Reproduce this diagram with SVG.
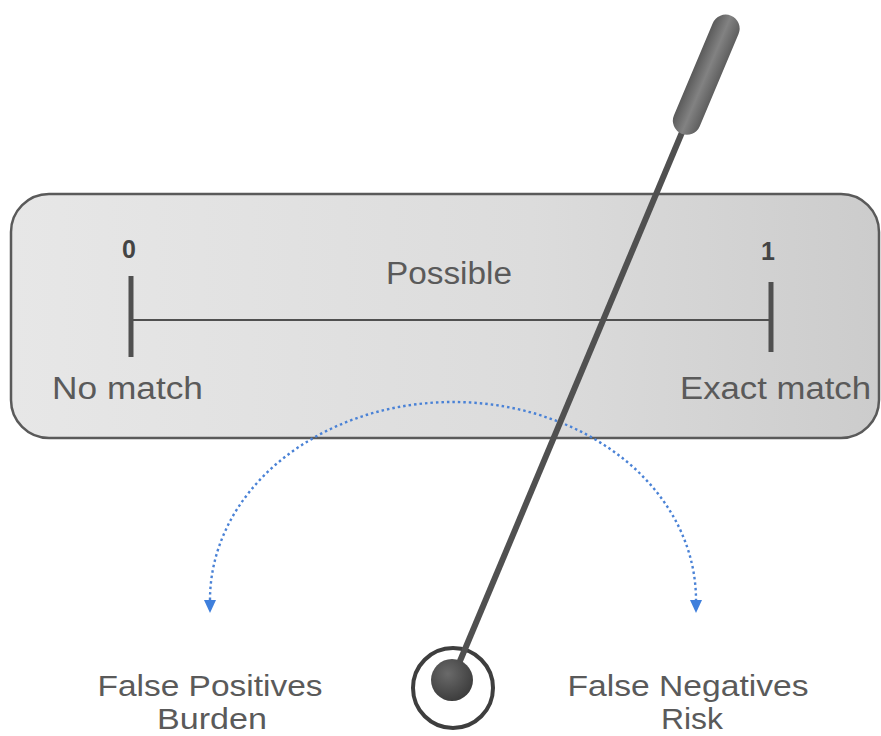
<svg xmlns="http://www.w3.org/2000/svg" width="881" height="736" viewBox="0 0 881 736">
<defs>
<linearGradient id="boxg" x1="0" y1="0" x2="1" y2="0">
<stop offset="0" stop-color="#e7e7e7"/>
<stop offset="0.6" stop-color="#dcdcdc"/>
<stop offset="1" stop-color="#cccccc"/>
</linearGradient>
<linearGradient id="handleg" x1="0" y1="0" x2="1" y2="0">
<stop offset="0" stop-color="#5a5a5a"/>
<stop offset="0.5" stop-color="#828282"/>
<stop offset="1" stop-color="#5e5e5e"/>
</linearGradient>
<radialGradient id="ballg" cx="0.4" cy="0.35" r="0.7">
<stop offset="0" stop-color="#6a6a6a"/>
<stop offset="1" stop-color="#3a3a3a"/>
</radialGradient>
<style>
.lbl{font-family:"Liberation Sans",Arial,sans-serif;fill:#5a5a5a;font-size:31px}
.bot{font-family:"Liberation Sans",Arial,sans-serif;fill:#5a5a5a;font-size:30px;text-anchor:middle}
.num{font-family:"Liberation Sans",Arial,sans-serif;fill:#444;font-size:25px;font-weight:bold;text-anchor:middle}
.bar{stroke:#505050;stroke-linecap:butt}
.arc{fill:none;stroke:#4a82d6;stroke-width:2.4;stroke-dasharray:2.5,3}
.head{fill:#3f7fdc}
</style>
</defs>
<g id="scale-box">
<rect x="11" y="194" width="868" height="244" rx="38" ry="38" fill="url(#boxg)" stroke="#5a5a5a" stroke-width="2.5"/>
<line class="bar" x1="131" y1="320" x2="771" y2="320" stroke-width="2"/>
<line class="bar" x1="131" y1="276" x2="131" y2="357" stroke-width="5"/>
<line class="bar" x1="771" y1="282" x2="771" y2="352" stroke-width="5"/>
<text class="num" x="129" y="258">0</text>
<text class="num" x="768" y="260">1</text>
<text class="lbl" x="386" y="284" textLength="126" lengthAdjust="spacingAndGlyphs">Possible</text>
<text class="lbl" x="52" y="399" textLength="151" lengthAdjust="spacingAndGlyphs">No match</text>
<text class="lbl" x="680" y="399" textLength="191" lengthAdjust="spacingAndGlyphs">Exact match</text>
</g>
<g id="connectors">
<path class="arc" d="M210,600 A243,198 0 0 1 696,600"/>
<polygon class="head" points="204,600 216,600 210,613"/>
<polygon class="head" points="690,600 702,600 696,613"/>
</g>
<g id="false-positives">
<text class="bot" x="210" y="696" textLength="225" lengthAdjust="spacingAndGlyphs">False Positives</text>
<text class="bot" x="212" y="729" textLength="110" lengthAdjust="spacingAndGlyphs">Burden</text>
</g>
<g id="false-negatives">
<text class="bot" x="688" y="696" textLength="241" lengthAdjust="spacingAndGlyphs">False Negatives</text>
<text class="bot" x="692" y="729" textLength="62" lengthAdjust="spacingAndGlyphs">Risk</text>
</g>
<g id="dial">
<circle cx="453" cy="688" r="40" fill="#fff" stroke="#3e3e3e" stroke-width="4"/>
<line x1="452" y1="680" x2="683" y2="130" stroke="#505050" stroke-width="6"/>
<circle cx="452" cy="680" r="21" fill="url(#ballg)"/>
<g transform="translate(683,130) rotate(22.8)">
<rect x="-14" y="-124" width="28" height="128" rx="14" ry="14" fill="url(#handleg)"/>
</g>
</g>
</svg>
